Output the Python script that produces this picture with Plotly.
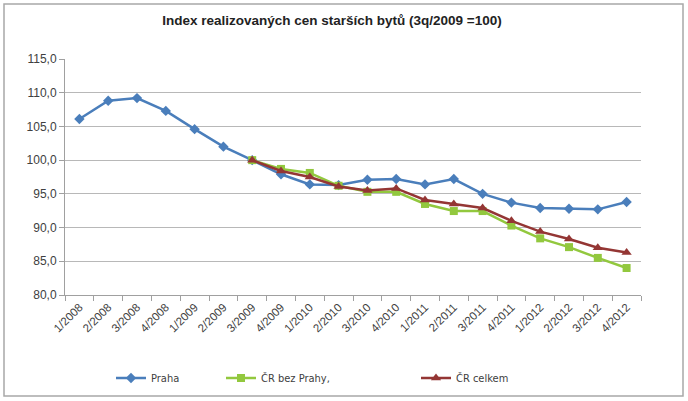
import plotly.graph_objects as go

quarters = ["1/2008", "2/2008", "3/2008", "4/2008", "1/2009", "2/2009", "3/2009", "4/2009",
            "1/2010", "2/2010", "3/2010", "4/2010", "1/2011", "2/2011", "3/2011", "4/2011",
            "1/2012", "2/2012", "3/2012", "4/2012"]
praha = [106.1, 108.8, 109.2, 107.3, 104.6, 102.0, 100.0, 97.9, 96.4, 96.3, 97.1, 97.2,
         96.4, 97.2, 95.0, 93.7, 92.9, 92.8, 92.7, 93.8]
cr_bez_prahy = [None, None, None, None, None, None, 100.0, 98.7, 98.1, 96.2, 95.3, 95.3,
                93.5, 92.45, 92.45, 90.3, 88.4, 87.1, 85.5, 84.0]
cr_celkem = [None, None, None, None, None, None, 100.0, 98.4, 97.5, 96.1, 95.5, 95.8,
             94.1, 93.5, 92.9, 91.0, 89.4, 88.3, 87.0, 86.3]
y_ticks = [80, 85, 90, 95, 100, 105, 110, 115]
y_tick_labels = ["80,0", "85,0", "90,0", "95,0", "100,0", "105,0", "110,0", "115,0"]

fig = go.Figure()
fig.add_trace(go.Scatter(x=quarters, y=praha, name="Praha", mode="lines+markers",
                         line=dict(color="#4A7EBB", width=2.5),
                         marker=dict(symbol="diamond", size=8, color="#4A7EBB"),
                         legend="legend"))
fig.add_trace(go.Scatter(x=quarters, y=cr_bez_prahy, name="ČR bez Prahy,", mode="lines+markers",
                         line=dict(color="#92C83E", width=2.5),
                         marker=dict(symbol="square", size=8, color="#92C83E"),
                         legend="legend2"))
fig.add_trace(go.Scatter(x=quarters, y=cr_celkem, name="ČR celkem", mode="lines+markers",
                         line=dict(color="#943634", width=2.5),
                         marker=dict(symbol="triangle-up", size=9, color="#943634"),
                         legend="legend3"))

W, H = 688, 401
L, R, T, B = 65, 47, 59, 106
pw, ph = W - L - R, H - T - B

def px(x):
    return (x - L) / pw

def py(y):
    return (H - B - y) / ph

leg_font = dict(family="Liberation Sans Narrow, DejaVu Sans Condensed, Liberation Sans, Arial",
                size=11, color="#404040")
legend_common = dict(orientation="h", yanchor="middle", xanchor="left", font=leg_font,
                     bgcolor="rgba(0,0,0,0)", itemwidth=30, xref="container", yref="container")

fig.update_layout(
    width=W, height=H,
    margin=dict(l=L, r=R, t=T, b=B, autoexpand=False),
    showlegend=True,
    paper_bgcolor="white", plot_bgcolor="white",
    font=dict(family="Liberation Sans, Arial", size=11, color="#404040"),
    title=dict(text="<b>Index realizovaných cen starších bytů (3q/2009 =100)</b>",
               x=332 / W, xanchor="center", y=1 - 20 / H, yanchor="middle",
               font=dict(size=13.5, color="#222222")),
    legend=dict(x=111 / W, y=1 - 378 / H, **legend_common),
    legend2=dict(x=221 / W, y=1 - 378 / H, **legend_common),
    legend3=dict(x=416 / W, y=1 - 378 / H, **legend_common),
    xaxis=dict(type="category", range=[-0.5, len(quarters) - 0.5], tickangle=-45,
               showgrid=False, showline=True, automargin=False,
               linecolor="#a0a0a0", linewidth=1, ticks="outside", tickson="boundaries",
               tickcolor="#a0a0a0", ticklen=5, tickfont=dict(size=11.5, color="#404040")),
    yaxis=dict(range=[80, 115], tickvals=y_ticks, ticktext=y_tick_labels, automargin=False,
               showgrid=True, gridcolor="#b8b8b8", gridwidth=1, showline=True,
               linecolor="#a0a0a0", ticks="outside", tickcolor="#a0a0a0", ticklen=5,
               zeroline=False, tickfont=dict(size=12, color="#404040")),
    shapes=[dict(type="rect", xref="paper", yref="paper",
                 x0=px(4), x1=px(683), y0=py(396), y1=py(4),
                 line=dict(color="#a8a8a8", width=1.5), fillcolor="rgba(0,0,0,0)", layer="below")],
)

fig.write_html("out.html", config={"displayModeBar": False},
               post_script="document.body.style.margin='0';")
